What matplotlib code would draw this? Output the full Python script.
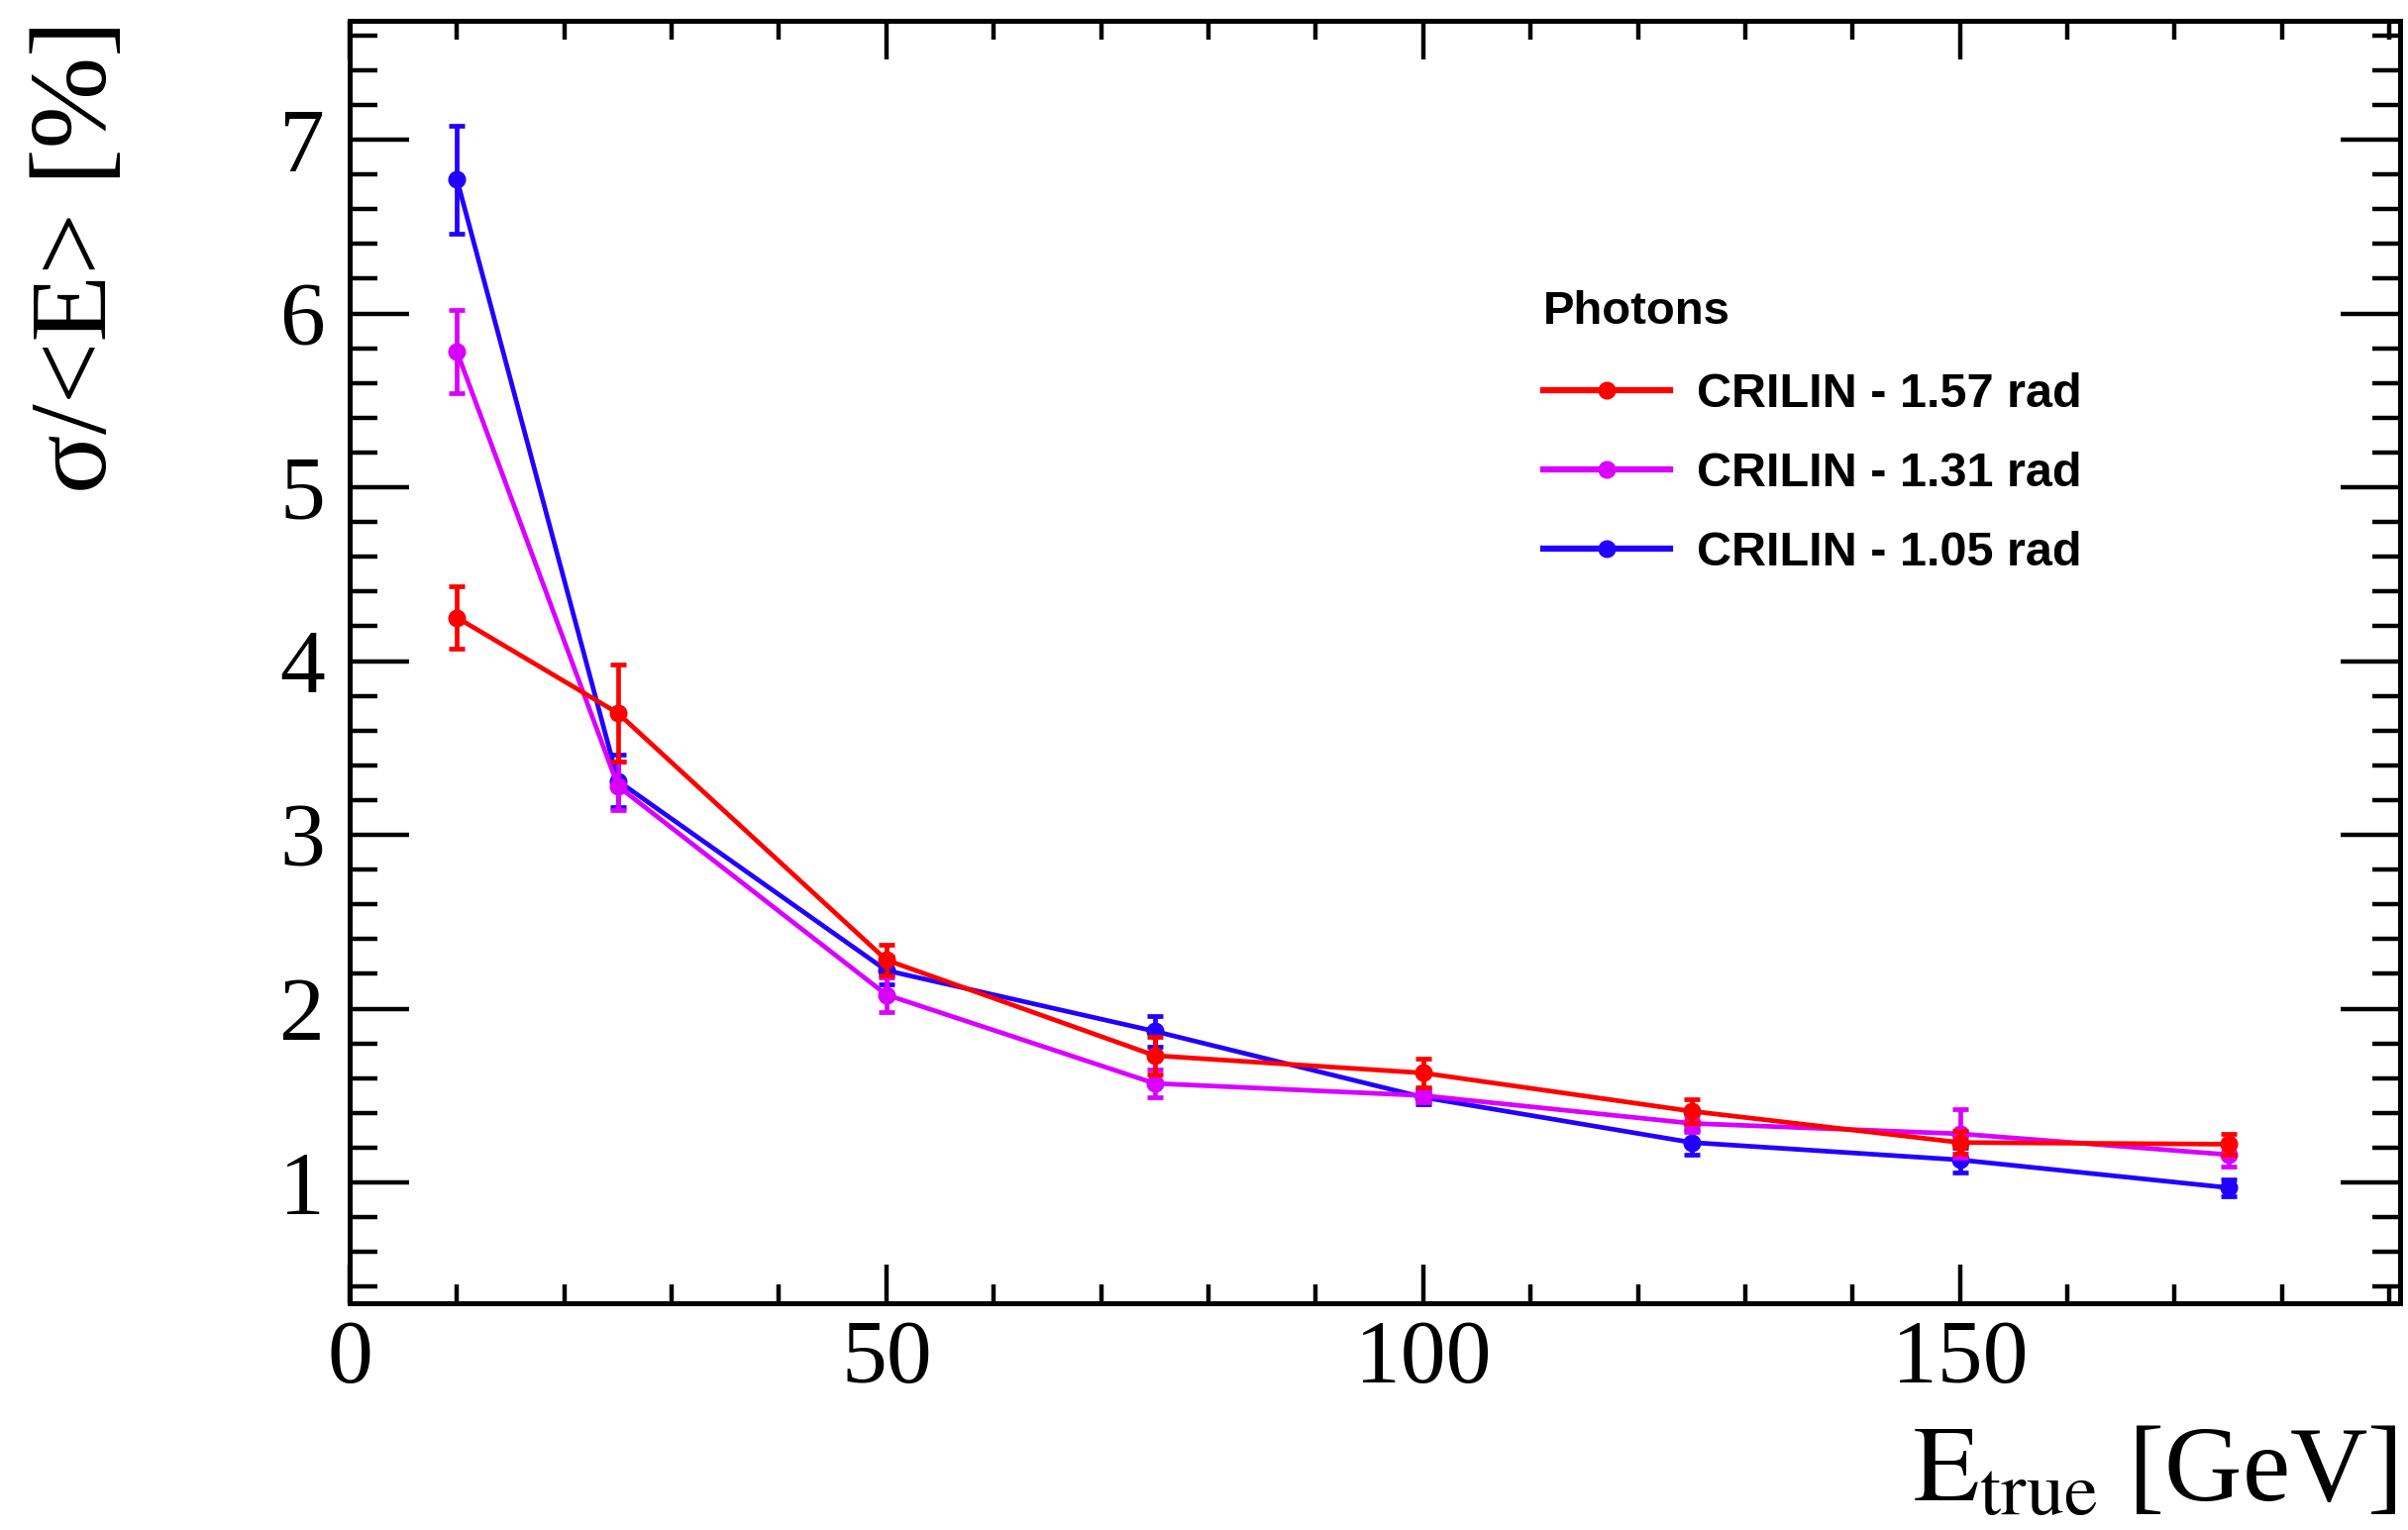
import matplotlib
matplotlib.use("Agg")
import matplotlib.pyplot as plt
from matplotlib.lines import Line2D
from matplotlib.ticker import MultipleLocator

# beam energies [GeV]
energy = [10, 25, 50, 75, 100, 125, 150, 175]

# sigma/<E> [%] for each polar angle
res_157 = [4.25, 3.70, 2.28, 1.73, 1.63, 1.41, 1.23, 1.22]
err_157 = [0.18, 0.28, 0.09, 0.11, 0.08, 0.07, 0.065, 0.06]
res_131 = [5.78, 3.28, 2.08, 1.57, 1.50, 1.34, 1.28, 1.16]
err_131 = [0.24, 0.14, 0.10, 0.08, 0.04, 0.05, 0.14, 0.07]
res_105 = [6.77, 3.31, 2.22, 1.87, 1.49, 1.23, 1.13, 0.97]
err_105 = [0.31, 0.15, 0.08, 0.09, 0.04, 0.07, 0.07, 0.05]

labels = ["CRILIN - 1.57 rad", "CRILIN - 1.31 rad", "CRILIN - 1.05 rad"]
colors = ["#ff0000", "#d900ff", "#2200ff"]

plt.rcParams["mathtext.fontset"] = "stix"
serif = "Liberation Serif"

fig = plt.figure(figsize=(24.31, 15.45), dpi=100)
ax = fig.add_axes([0.1452, 0.1482, 0.8515, 0.8382])

series = [(res_157, err_157), (res_131, err_131), (res_105, err_105)]
# blue underneath, red on top
for i in [2, 1, 0]:
    y, e = series[i]
    ax.errorbar(energy, y, yerr=e, color=colors[i], lw=3.4, elinewidth=3.4,
                capsize=6, capthick=3.4, marker="o", ms=12, zorder=3 + (2 - i))

ax.set_xlim(0, 191)
ax.set_ylim(0.305, 7.684)

ax.xaxis.set_major_locator(MultipleLocator(50))
ax.xaxis.set_minor_locator(MultipleLocator(10))
ax.yaxis.set_major_locator(MultipleLocator(1))
ax.yaxis.set_minor_locator(MultipleLocator(0.2))

for s in ax.spines.values():
    s.set_linewidth(3.6)

ax.tick_params(axis="x", which="major", direction="in", length=28, width=3.2,
               top=True, labelsize=66, pad=12)
ax.tick_params(axis="x", which="minor", direction="in", length=14, width=3.2, top=True)
ax.tick_params(axis="y", which="major", direction="in", length=43, width=3.2,
               right=True, labelsize=66, pad=18)
ax.tick_params(axis="y", which="minor", direction="in", length=20, width=3.2, right=True)
for lab in ax.get_xticklabels() + ax.get_yticklabels():
    lab.set_family(serif)

fig.text(0.9953, 0.004, r"$\mathrm{E}_{\mathrm{true}}$ [GeV]", ha="right", va="bottom",
         fontsize=78, family=serif)
fig.text(0.033, 0.987, "σ/<E> [%]", ha="center", va="top", rotation=90,
         fontsize=80, family=serif)

handles = [Line2D([], [], color=c, lw=4.5, marker="o", ms=12) for c in colors]
leg = ax.legend(handles, labels, title="Photons", loc="upper left",
                bbox_to_anchor=(0.631, 0.826), bbox_transform=fig.transFigure,
                frameon=False, borderpad=0, handlelength=2.63, handletextpad=0.55,
                labelspacing=0.72, alignment="left",
                prop={"family": "Liberation Sans", "weight": "bold", "size": 35},
                title_fontproperties={"family": "Liberation Sans", "weight": "bold", "size": 34})
leg._legend_box.sep = 28

fig.savefig("out.png", dpi=100)
